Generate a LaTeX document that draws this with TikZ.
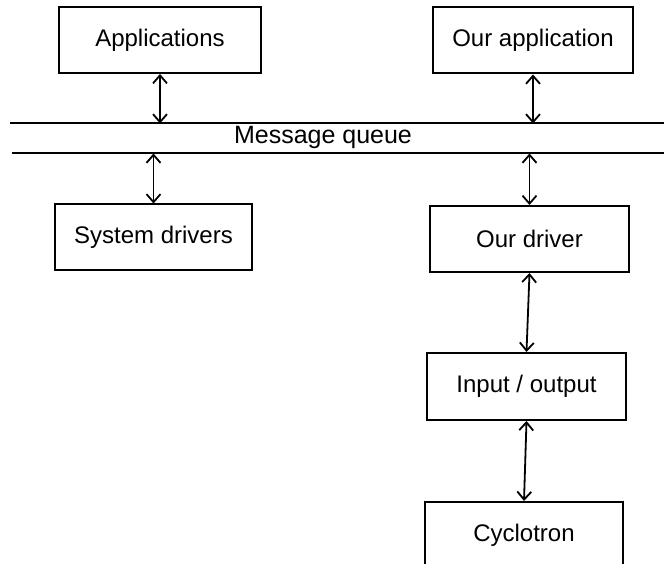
\documentclass[tikz,border=0pt]{standalone}
\usepackage{fontspec}
\setmainfont{Liberation Sans}
\usetikzlibrary{arrows.meta}
\tikzset{
  box/.style  = {draw, line width=2pt, minimum width=200pt, minimum height=66pt,
                 inner sep=0pt, font=\fontsize{24}{28}\selectfont},
  link/.style = {line width=1.8pt,
                 {Straight Barb[length=8pt,width=14pt]}-{Straight Barb[length=8pt,width=14pt]}}
}
\begin{document}
\begin{tikzpicture}[x=1pt, y=1pt]
    \clip (0,0) rectangle (664,564);
    \coordinate (qtopleft)  at ( 10, 440.5);
    \coordinate (qtopright) at (664, 440.5);
    \coordinate (qbotleft)  at ( 12, 410.5);
    \coordinate (qbotright) at (664, 410.5);
    \node[box, minimum width=202pt] (apps)   at (160, 524)   {Applications};
    \node[box]                      (ourapp) at (533, 523.5) {Our application};
    \node[box, minimum width=197pt] (sysdrv) at (153.5, 326.5) {System drivers};
    \node[box, minimum width=199pt] (ourdrv) at (529.5, 325) {Our driver};
    \node[box, minimum width=199pt, minimum height=67pt] (io) at (526.5, 177.5) {Input / output};
    \node[box, minimum width=198pt] (cyclo)  at (524, 29)    {Cyclotron};
    % message queue
    \draw[line width=2pt] (qtopleft) -- (qtopright);
    \draw[line width=2pt] (qbotleft) -- (qbotright);
    \node[font=\fontsize{25}{28}\selectfont] (queue) at (323, 426) {Message queue};
    % links
    \draw[link] (apps.south)   -- (apps.south |- qtopleft);
    \draw[link] (ourapp.south) -- (ourapp.south |- qtopleft);
    \draw[link] (sysdrv.north |- qbotleft) -- (sysdrv.north);
    \draw[link] (ourdrv.north |- qbotleft) -- (ourdrv.north);
    \draw[link] (ourdrv.south) -- (io.north);
    \draw[link] (io.south)     -- (cyclo.north);
\end{tikzpicture}
\end{document}
